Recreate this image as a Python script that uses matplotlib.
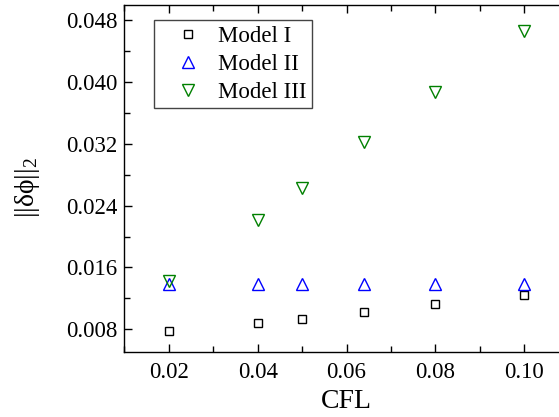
import numpy as np
import matplotlib
matplotlib.use("Agg")
import matplotlib.pyplot as plt
from matplotlib.ticker import MultipleLocator

plt.rcParams['font.family'] = ['Liberation Serif', 'DejaVu Serif']
plt.rcParams['mathtext.fontset'] = 'custom'
plt.rcParams['mathtext.rm'] = 'Liberation Serif'
plt.rcParams['mathtext.default'] = 'regular'

cfl = [0.02, 0.04, 0.05, 0.064, 0.08, 0.10]
model1 = [0.0078, 0.00878, 0.00935, 0.0102, 0.01125, 0.01245]
model2 = [0.0138, 0.0138, 0.0138, 0.0138, 0.0138, 0.0138]
model3 = [0.0142, 0.0221, 0.0263, 0.0323, 0.0387, 0.0466]

fig = plt.figure(figsize=(5.59, 4.17), dpi=100)
ax = fig.add_axes([0.2224, 0.1552, 0.795, 0.8328])

ax.plot(cfl, model1, ls='none', marker='s', ms=5.5, mfc='none', mec='black', mew=1.0, label='Model I')
ax.plot(cfl, model2, ls='none', marker='^', ms=8, mfc='none', mec='#0000ff', mew=1.0, label='Model II')
ax.plot(cfl, model3, ls='none', marker='v', ms=8, mfc='none', mec='#008000', mew=1.0, label='Model III')

ax.set_xlim(0.01, 0.11)
ax.set_ylim(0.005, 0.050)
ax.xaxis.set_major_locator(MultipleLocator(0.02))
ax.xaxis.set_minor_locator(MultipleLocator(0.01))
ax.yaxis.set_major_locator(MultipleLocator(0.008))
ax.yaxis.set_minor_locator(MultipleLocator(0.004))
ax.xaxis.set_major_formatter(plt.FuncFormatter(lambda v, p: f'{v:.2f}'))
ax.yaxis.set_major_formatter(plt.FuncFormatter(lambda v, p: f'{v:.3f}'))

ax.tick_params(which='both', direction='in', top=True, right=False, width=1.0, labelsize=16.5)
ax.tick_params(which='major', length=6)
ax.tick_params(which='minor', length=4)
ax.tick_params(axis='x', pad=7)
ax.tick_params(axis='y', pad=5)
for s in ax.spines.values():
    s.set_linewidth(1.0)

ax.set_xlabel('CFL', fontsize=20)
ax.set_ylabel('||δ\u03d5||$_2$', fontsize=20)
ax.yaxis.set_label_coords(-0.186, 0.4745)

leg = ax.legend(loc='upper left', bbox_to_anchor=(0.0668, 0.9568), borderaxespad=0,
                fontsize=16.5, frameon=True, fancybox=False, framealpha=1,
                edgecolor='#444444', handletextpad=0.1, labelspacing=0.3,
                borderpad=0.25, handlelength=2.45)
leg.get_frame().set_linewidth(1.0)

fig.savefig('out.png', dpi=100)
